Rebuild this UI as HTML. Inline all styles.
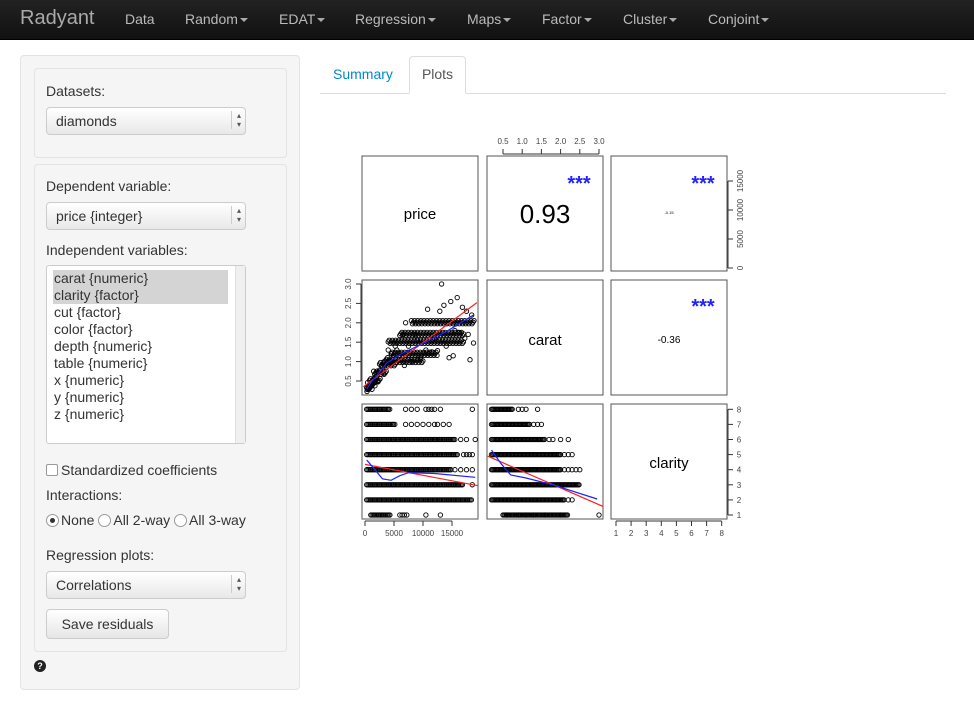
<!DOCTYPE html>
<html><head><meta charset="utf-8">
<style>
*{box-sizing:border-box}
body{margin:0;width:974px;height:702px;background:#fff;font-family:"Liberation Sans",sans-serif;font-size:14px;color:#333;position:relative;overflow:hidden}
.nav{position:absolute;left:0;top:0;width:974px;height:40px;background:linear-gradient(#222,#111);border-bottom:1px solid #000}
.nav span{position:absolute;top:11px;color:#bbb;font-size:14px}
.brand{font-size:20px!important;top:7px!important;color:#aaa!important;left:20px}
.car{display:inline-block;width:0;height:0;border-left:4px solid transparent;border-right:4px solid transparent;border-top:4px solid #aaa;vertical-align:middle;margin-left:2px}
.well{position:absolute;background:#f5f5f5;border:1px solid #e3e3e3;border-radius:4px}
.lbl{position:absolute;font-size:14px;color:#333}
.sel{position:absolute;height:28px;background:linear-gradient(#fff,#e8e8e8);border:1px solid #ccc;border-radius:4px;padding:5px 9px;font-size:14px}
.sel:after{content:"▴\A▾";white-space:pre;position:absolute;right:4px;top:3px;font-size:8px;line-height:9px;color:#555;border-left:1px solid #ccc;padding-left:5px}
.list{position:absolute;left:46px;top:265px;width:200px;height:179px;background:#fff;border:1px solid #ccc;border-radius:3px;padding:4px 6px;font-size:14px;line-height:17px}
.list div{padding-left:1px}
.hl{background:#d4d4d4;width:175px}
.btn{position:absolute;left:46px;top:609px;width:123px;height:30px;border:1px solid #ccc;border-radius:4px;background:linear-gradient(#fff,#e6e6e6);text-align:center;line-height:28px}
.radio{display:inline-block;width:13px;height:13px;border:1px solid #999;border-radius:50%;background:#fff;vertical-align:-2px;margin-right:2px;position:relative}
</style></head><body>
<div class="nav">
<span class="brand">Radyant</span>
<span style="left:125px">Data</span>
<span style="left:185px">Random<i class="car"></i></span>
<span style="left:279px">EDAT<i class="car"></i></span>
<span style="left:355px">Regression<i class="car"></i></span>
<span style="left:467px">Maps<i class="car"></i></span>
<span style="left:542px">Factor<i class="car"></i></span>
<span style="left:623px">Cluster<i class="car"></i></span>
<span style="left:708px">Conjoint<i class="car"></i></span>
</div>
<div class="well" style="left:20px;top:55px;width:280px;height:635px"></div>
<div class="well" style="left:34px;top:68px;width:253px;height:90px"></div>
<div class="well" style="left:34px;top:164px;width:253px;height:488px"></div>
<div class="lbl" style="left:46px;top:83px">Datasets:</div>
<div class="sel" style="left:46px;top:107px;width:200px">diamonds</div>
<div class="lbl" style="left:46px;top:178px">Dependent variable:</div>
<div class="sel" style="left:46px;top:202px;width:200px">price {integer}</div>
<div class="lbl" style="left:46px;top:242px">Independent variables:</div>
<div class="list">
<div class="hl">carat {numeric}</div><div class="hl">clarity {factor}</div><div>cut {factor}</div><div>color {factor}</div><div>depth {numeric}</div><div>table {numeric}</div><div>x {numeric}</div><div>y {numeric}</div><div>z {numeric}</div>
<div style="position:absolute;right:0;top:0;width:10px;height:177px;background:#f0f0f0;border-left:1px solid #e0e0e0"></div>
</div>
<div class="lbl" style="left:46px;top:462px"><span style="display:inline-block;width:12px;height:12px;border:1px solid #999;background:#fff;border-radius:2px;vertical-align:-1px;margin-right:3px"></span>Standardized coefficients</div>
<div class="lbl" style="left:46px;top:487px">Interactions:</div>
<div class="lbl" style="left:46px;top:512px"><span class="radio"><span style="position:absolute;left:3px;top:3px;width:5px;height:5px;border-radius:50%;background:#333"></span></span>None <span class="radio"></span>All 2-way <span class="radio"></span>All 3-way</div>
<div class="lbl" style="left:46px;top:547px">Regression plots:</div>
<div class="sel" style="left:46px;top:571px;width:200px">Correlations</div>
<div class="btn">Save residuals</div>
<div style="position:absolute;left:34px;top:660px;width:12px;height:12px;border-radius:50%;background:#222;color:#fff;font-size:9px;text-align:center;line-height:12px;font-weight:bold">?</div>
<div style="position:absolute;left:320px;top:93px;width:626px;height:1px;background:#ddd"></div>
<div style="position:absolute;left:333px;top:66px;color:#0088cc">Summary</div>
<div style="position:absolute;left:409px;top:56px;width:57px;height:38px;border:1px solid #ddd;border-bottom:1px solid #fff;border-radius:4px 4px 0 0;background:#fff;text-align:center;padding-top:9px;color:#555">Plots</div>
<svg id="chart" style="position:absolute;left:0;top:0" width="974" height="702"></svg>
<script>
const levels=[1,2,3,4,5,6,7,8];
const priceTicks=[0,5000,10000,15000];
const caratTicks=[0.5,1.0,1.5,2.0,2.5,3.0];
const corrPriceCarat="0.93", corrPriceClarity="-0.15", corrCaratClarity="-0.36";
// price vs carat scatter points [price, carat]
const pcPoints=[[350,0.23],[400,0.28],[500,0.3],[600,0.32],[700,0.31],[800,0.35],[900,0.4],[1000,0.42],[1100,0.38],[1200,0.5],[1400,0.52],[1500,0.55],[1700,0.6],[1900,0.7],[2000,0.62],[2300,0.72],[2500,0.78],[2800,0.9],[3000,0.85],[3300,1.0],[3600,0.95],[3900,1.1],[4200,1.02],[4600,1.2],[5000,1.15],[5500,1.3],[6200,1.05],[6800,0.9],[7500,1.4],[8000,1.0],[8500,1.7],[9000,1.55],[9500,1.1],[10500,1.3],[10800,2.35],[11000,1.2],[11500,1.25],[12000,1.6],[12500,1.28],[12900,2.3],[13200,3.0],[13600,2.45],[14000,1.4],[14500,1.1],[14800,2.55],[15200,1.15],[15500,1.8],[15900,2.65],[16300,1.75],[16800,2.4],[17200,1.6],[17500,2.3],[17800,1.7],[18100,1.05],[18400,2.2],[18700,1.48],[6500,1.7],[7000,2.0],[5200,1.4],[4000,1.3],[3200,0.7],[2200,0.5],[1600,0.45]];
// dense carat bands in price-carat panel
const pcBandCarat=[0.3,0.4,0.5,0.7,0.9,1.0,1.2,1.5,1.7,2.0];
const pcBandFrom=[300,450,800,1500,2500,3500,4500,4000,6000,8000];
const pcBandTo=[1200,1800,2600,3800,5500,10000,12500,17000,17000,18800];
const pcLineP=[-300,19300];
const pcLineC=[0.35,2.52];
const pcLowP=[300,1200,2600,3700,6000,8900,14100,18700];
const pcLowC=[0.3,0.5,0.74,0.96,1.18,1.39,1.78,2.2];
// clarity vs price: dense ranges and isolated points per level
const cpFrom=[1000,300,300,300,300,300,300,300];
const cpTo=[4500,18500,17000,15000,16000,15500,5200,4300];
const cpExtra=[[6000,6400,6800,7200,10500,13000],[],[18500],[15500,16500,17500,18500],[17000,17500,18000,18500],[16500,17500,19000],[7000,8000,9000,10000,11000,12000,12500,13500,14500],[7000,8000,9000,10500,11000,11500,12000,13000,18500]];
const cpLineP=[0,19500];
const cpLineL=[4.35,2.94];
const cpLowP=[300,1500,3000,4500,6000,7500,12000,19000];
const cpLowL=[4.64,4.1,3.4,3.3,3.6,3.8,3.75,3.5];
// clarity vs carat
const ccFrom=[0.5,0.2,0.2,0.2,0.2,0.2,0.2,0.2];
const ccTo=[2.2,2.1,2.5,2.0,2.0,1.6,1.2,0.75];
const ccExtra=[[0.6,0.9,1.1,1.3,1.6,2.0,3.0],[2.2,2.3],[],[2.1,2.2,2.3,2.4,2.5],[2.1,2.2,2.3],[1.7,1.8,2.0,2.2],[1.3,1.4,1.5],[0.9,1.0,1.1,1.4]];
const ccLineC=[0.1,3.55];
const ccLineL=[4.9,1.07];
const ccLowC=[0.2,0.45,0.7,1.1,1.8,2.95];
const ccLowL=[5.3,4.4,3.65,3.45,3.0,2.06];

const NS="http://www.w3.org/2000/svg";
const svg=document.getElementById('chart');
function mk(t,a,parent){const e=document.createElementNS(NS,t);for(const k in a)e.setAttribute(k,a[k]);(parent||svg).appendChild(e);return e;}
const colX=[362,487,611],rowY=[156,280,404],W=116,H=115;
const defs=mk('defs',{});
for(let r=0;r<3;r++)for(let c=0;c<3;c++){
 const cp=mk('clipPath',{id:'cp'+r+c},defs);
 mk('rect',{x:colX[c],y:rowY[r],width:W,height:H},cp);
}
const px1=p=>365+p*0.0058;
const py3=p=>268-p*0.0058;
const cx2=c=>503+(c-0.5)*38.4;
const cy2=c=>381-(c-0.5)*38.8;
const ly3=l=>515-(l-1)*15.1;
const lx3=l=>616+(l-1)*15.1;
for(let r=0;r<3;r++)for(let c=0;c<3;c++){
 const b=mk('rect',{x:colX[c],y:rowY[r],width:W,height:H,fill:'none',stroke:'#555','stroke-width':1});
 
 
}
function txt(x,y,s,size,extra){const t=mk('text',Object.assign({x:x,y:y,'font-size':size,'font-family':'Liberation Sans, sans-serif','text-anchor':'middle',fill:'#000'},extra||{}));t.textContent=s;return t;}
let t;
t=txt(420,219,'price',15);
t=txt(545,345,'carat',15);
t=txt(669,468,'clarity',15);
t=txt(545,223,corrPriceCarat,26);
t=txt(669,214,corrPriceClarity,4);
t=txt(669,343,corrCaratClarity,10);
[[579,190],[703,190],[703,313]].forEach(p=>{const s=txt(p[0],p[1],'***',20,{fill:'#2222ff','font-weight':'bold'});});
function axis(ticks,pos,fixed,dir,labels,rot){
 const g=mk('g',{stroke:'#333','stroke-width':1});
 const v=ticks.map(pos);
 if(dir==='top'||dir==='bottom'){mk('line',{x1:v[0],x2:v[v.length-1],y1:fixed,y2:fixed},g);}
 if(dir==='left'||dir==='right'){mk('line',{y1:v[0],y2:v[v.length-1],x1:fixed,x2:fixed},g);}
 ticks.forEach((tk,i)=>{
  const p=v[i];let tx;
  if(dir==='top'){mk('line',{x1:p,x2:p,y1:fixed,y2:fixed-5},g);tx=txt(p,fixed-10,labels[i],8,{fill:'#444'});}
  if(dir==='bottom'){mk('line',{x1:p,x2:p,y1:fixed,y2:fixed+5},g);tx=txt(p,fixed+15,labels[i],8,{fill:'#444'});}
  if(dir==='left'){mk('line',{y1:p,y2:p,x1:fixed,x2:fixed-5},g);tx=txt(fixed-10,p,labels[i],8,{fill:'#444',transform:'rotate(-90 '+(fixed-10)+' '+p+')'});}
  if(dir==='right'){mk('line',{y1:p,y2:p,x1:fixed,x2:fixed+5},g);
   if(rot)tx=txt(fixed+15,p,labels[i],8,{fill:'#444',transform:'rotate(-90 '+(fixed+15)+' '+p+')'});
   else tx=txt(fixed+11,p+3,labels[i],8,{fill:'#444'});}
  
  
 });
 return g;
}
let a;
a=axis(caratTicks,cx2,154,'top',caratTicks.map(v=>v.toFixed(1)));
a=axis(priceTicks,py3,728,'right',priceTicks.map(String),true);
a=axis(caratTicks,cy2,361,'left',caratTicks.map(v=>v.toFixed(1)));
a=axis(levels,ly3,728,'right',levels.map(String),false);
a=axis(priceTicks,px1,521,'bottom',priceTicks.map(String));
a=axis(levels,lx3,521,'bottom',levels.map(String));
const pg=mk('g',{fill:'none',stroke:'#000','stroke-width':0.9});


function pt(x,y){mk('circle',{cx:x.toFixed(1),cy:y.toFixed(1),r:2.2},pg);}
pcBandCarat.forEach((c,i)=>{for(let p=pcBandFrom[i];p<=pcBandTo[i];p+=180){pt(px1(p),cy2(c+((p/180)%3-1)*0.04));}});
pcPoints.forEach(d=>pt(px1(d[0]),cy2(d[1])));
levels.forEach((l,i)=>{for(let p=cpFrom[i];p<=cpTo[i];p+=220)pt(px1(p),ly3(l));cpExtra[i].forEach(p=>pt(px1(p),ly3(l)));});
levels.forEach((l,i)=>{for(let c=ccFrom[i];c<=ccTo[i]+1e-9;c+=0.03)pt(cx2(c),ly3(l));ccExtra[i].forEach(c=>pt(cx2(c),ly3(l)));});
function line(xs,ys,fx,fy,col,name,clip){const l=mk('polyline',{points:xs.map((x,i)=>fx(x).toFixed(1)+','+fy(ys[i]).toFixed(1)).join(' '),fill:'none',stroke:col,'stroke-width':1.2,'clip-path':'url(#'+clip+')'});
 
 }
line(pcLineP,pcLineC,px1,cy2,'#ff2020','fit-line-price-carat','cp10');
line(pcLowP,pcLowC,px1,cy2,'#2020ff','lowess-price-carat','cp10');
line(cpLineP,cpLineL,px1,ly3,'#ff2020','fit-line-price-clarity','cp20');
line(cpLowP,cpLowL,px1,ly3,'#2020ff','lowess-price-clarity','cp20');
line(ccLineC,ccLineL,cx2,ly3,'#ff2020','fit-line-carat-clarity','cp21');
line(ccLowC,ccLowL,cx2,ly3,'#2020ff','lowess-carat-clarity','cp21');
</script>
</body></html>
